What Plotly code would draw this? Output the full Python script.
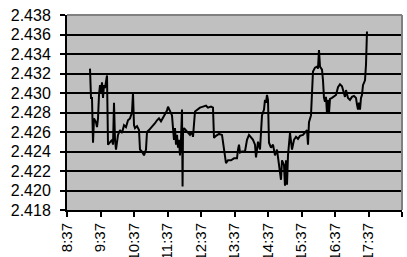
import plotly.graph_objects as go

times = [
    "09:18:11", "09:20:00", "09:21:47", "09:23:34", "09:25:22", "09:28:56", "09:30:44", "09:32:31",
    "09:34:19", "09:36:06", "09:37:53", "09:39:41", "09:41:29", "09:43:16", "09:45:04", "09:46:51",
    "09:48:38", "09:50:26", "09:54:01", "09:57:36", "09:59:23", "10:01:11", "10:02:58", "10:04:46",
    "10:08:20", "10:11:55", "10:15:31", "10:19:05", "10:22:40", "10:26:15", "10:29:50", "10:33:25",
    "10:35:12", "10:37:00", "10:38:47", "10:42:22", "10:45:57", "10:47:44", "10:51:20", "10:54:55",
    "10:58:29", "11:00:17", "11:03:52", "11:07:26", "11:11:02", "11:14:37", "11:18:11", "11:21:46",
    "11:25:21", "11:28:56", "11:32:31", "11:36:06", "11:37:53", "11:41:28", "11:45:04", "11:46:51",
    "11:48:38", "11:50:26", "11:52:13", "11:54:01", "11:55:48", "11:57:35", "11:59:23", "12:01:10",
    "12:02:58", "12:04:00", "12:04:46", "12:06:33", "12:10:08", "12:13:43", "12:17:17", "12:20:53",
    "12:22:40", "12:26:15", "12:29:50", "12:35:12", "12:40:35", "12:45:57", "12:49:32", "12:54:54",
    "12:58:29", "13:00:17", "13:03:52", "13:09:14", "13:14:37", "13:18:11", "13:21:46", "13:25:21",
    "13:30:43", "13:36:06", "13:41:28", "13:43:16", "13:45:03", "13:46:50", "13:50:26", "13:55:48",
    "13:59:23", "14:02:58", "14:06:32", "14:10:08", "14:13:43", "14:15:30", "14:19:05", "14:22:40",
    "14:26:15", "14:29:50", "14:31:37", "14:33:25", "14:35:12", "14:36:59", "14:38:47", "14:42:22",
    "14:45:57", "14:49:32", "14:53:07", "14:56:41", "15:00:16", "15:02:04", "15:05:39", "15:07:26",
    "15:09:14", "15:11:01", "15:12:49", "15:16:23", "15:18:11", "15:19:59", "15:23:34", "15:27:08",
    "15:30:43", "15:34:18", "15:39:41", "15:43:16", "15:46:50", "15:48:38", "15:50:25", "15:54:00",
    "15:55:48", "15:57:35", "16:01:10", "16:04:45", "16:06:32", "16:08:20", "16:10:07", "16:13:43",
    "16:15:30", "16:17:17", "16:19:05", "16:20:52", "16:22:40", "16:24:27", "16:26:14", "16:28:02",
    "16:31:37", "16:35:12", "16:38:47", "16:42:22", "16:45:56", "16:49:32", "16:53:07", "16:54:54",
    "16:56:41", "17:00:16", "17:03:51", "17:07:26", "17:11:01", "17:14:36", "17:16:23", "17:18:11",
    "17:19:58", "17:21:46", "17:23:33", "17:25:21", "17:27:08", "17:30:43", "17:32:31", "17:34:18",
]

values = [
    2.4325, 2.4295, 2.4295, 2.4249, 2.4274, 2.4270, 2.4265, 2.4274,
    2.4298, 2.4308, 2.4301, 2.4311, 2.4295, 2.4308, 2.4305, 2.4313,
    2.4318, 2.4247, 2.4250, 2.4252, 2.4247, 2.4290, 2.4252, 2.4242,
    2.4257, 2.4262, 2.4259, 2.4267, 2.4265, 2.4272, 2.4274, 2.4280,
    2.4300, 2.4267, 2.4264, 2.4266, 2.4262, 2.4242, 2.4240, 2.4236,
    2.4242, 2.4260, 2.4262, 2.4264, 2.4266, 2.4269, 2.4272, 2.4274,
    2.4271, 2.4275, 2.4278, 2.4282, 2.4286, 2.4281, 2.4277, 2.4264,
    2.4252, 2.4264, 2.4247, 2.4257, 2.4244, 2.4252, 2.4236, 2.4252,
    2.4283, 2.4204, 2.4260, 2.4264, 2.4262, 2.4259, 2.4257, 2.4260,
    2.4255, 2.4281, 2.4283, 2.4285, 2.4286, 2.4287, 2.4285, 2.4286,
    2.4285, 2.4254, 2.4256, 2.4258, 2.4257, 2.4244, 2.4228, 2.4231,
    2.4231, 2.4233, 2.4233, 2.4242, 2.4247, 2.4239, 2.4240, 2.4240,
    2.4252, 2.4257, 2.4255, 2.4252, 2.4247, 2.4234, 2.4250, 2.4242,
    2.4277, 2.4283, 2.4293, 2.4290, 2.4298, 2.4293, 2.4249, 2.4244,
    2.4247, 2.4236, 2.4242, 2.4226, 2.4211, 2.4231, 2.4226, 2.4205,
    2.4231, 2.4206, 2.4236, 2.4259, 2.4252, 2.4242, 2.4252, 2.4255,
    2.4253, 2.4256, 2.4257, 2.4259, 2.4262, 2.4247, 2.4270, 2.4277,
    2.4296, 2.4322, 2.4326, 2.4327, 2.4325, 2.4344, 2.4327, 2.4324,
    2.4313, 2.4295, 2.4291, 2.4296, 2.4279, 2.4293, 2.4279, 2.4294,
    2.4295, 2.4297, 2.4298, 2.4306, 2.4309, 2.4307, 2.4301, 2.4296,
    2.4303, 2.4295, 2.4293, 2.4296, 2.4297, 2.4295, 2.4288, 2.4283,
    2.4290, 2.4283, 2.4295, 2.4298, 2.4308, 2.4313, 2.4329, 2.4363,
]

x_tick_labels = ["8:37", "9:37", "10:37", "11:37", "12:37", "13:37",
                 "14:37", "15:37", "16:37", "17:37", "18:37"]
y_ticks = [2.418, 2.420, 2.422, 2.424, 2.426, 2.428, 2.430, 2.432, 2.434, 2.436, 2.438]

DAY = "2000-01-01 "


def to_dt(t):
    parts = t.split(":")
    h = int(parts[0])
    rest = ":".join(parts[1:])
    return f"{DAY}{h:02d}:{rest}"


xs = [to_dt(t) for t in times]
tickvals = [to_dt(t) for t in x_tick_labels]

fig = go.Figure()
fig.add_trace(go.Scatter(
    x=xs, y=values, mode="lines",
    line=dict(color="black", width=2),
    showlegend=False, hoverinfo="skip",
))

fam = "Liberation Sans, Arial, sans-serif"

fig.update_layout(
    width=407, height=257,
    margin=dict(l=67, r=5, t=15, b=47),
    paper_bgcolor="white",
    plot_bgcolor="#c0c0c0",
    font=dict(family=fam, size=15, color="black"),
    xaxis=dict(
        type="date",
        range=[tickvals[0], tickvals[-1]],
        tickvals=tickvals,
        ticktext=x_tick_labels,
        tickangle=-90,
        showgrid=False,
        showline=True, linecolor="black", linewidth=2,
        ticks="outside", ticklen=5, tickwidth=2, tickcolor="black",
        zeroline=False,
        automargin=False,
        tickfont=dict(family=fam, size=15),
    ),
    yaxis=dict(
        range=[y_ticks[0], y_ticks[-1]],
        tickvals=y_ticks,
        ticktext=[f"{v:.3f}" for v in y_ticks],
        showgrid=True, gridcolor="black", gridwidth=2,
        showline=True, linecolor="black", linewidth=2,
        ticks="outside", ticklen=5, tickwidth=2, tickcolor="black",
        ticklabelstandoff=6,
        zeroline=False,
        automargin=False,
        tickfont=dict(family=fam, size=16),
    ),
    shapes=[
        dict(type="line", xref="paper", yref="paper", x0=0, x1=1, y0=1, y1=1,
             line=dict(color="#808080", width=2), layer="above"),
        dict(type="line", xref="paper", yref="paper", x0=1, x1=1, y0=0, y1=1,
             line=dict(color="#808080", width=2), layer="above"),
    ],
)

fig.write_html("out.html", config={"displayModeBar": False},
               post_script="document.body.style.margin='0';")
